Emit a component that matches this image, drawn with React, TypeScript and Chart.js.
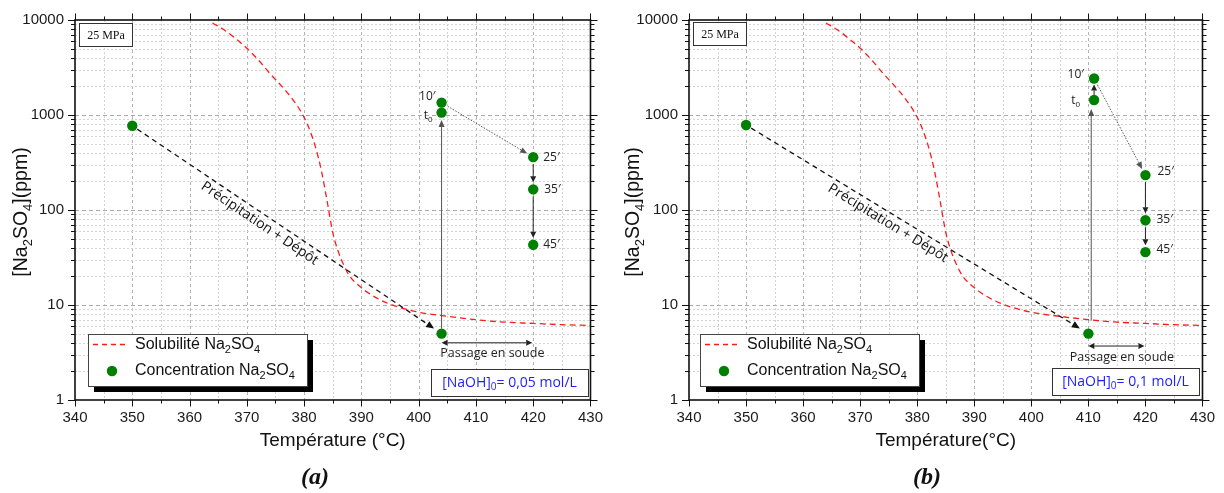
import React, { useEffect, useRef } from 'react';
import { Chart, registerables } from 'chart.js';

Chart.register(...registerables);

// ---------------- DATA ----------------
const xMin = 340;
const xMax = 430;
const xStep = 5;
const yMin = 1;
const yMax = 10000;
const yDecadeLabels = [1, 10, 100, 1000, 10000];

// Solubility curve of Na2SO4 at 25 MPa (red dashed)
const solubilityT = [364, 366, 368, 370, 372, 374, 376, 377, 378, 379, 380, 381, 382, 383, 384, 385, 386, 387, 388, 390, 392, 395, 400, 405, 410, 415, 420, 425, 430];
const solubilityC = [9300, 7900, 6400, 5050, 3800, 2750, 2040, 1740, 1460, 1200, 945, 690, 457, 263, 126, 58, 36, 25.7, 20, 15.2, 12.5, 10.2, 8.4, 7.6, 7.0, 6.6, 6.4, 6.2, 6.1];

// Panel (a): measured concentrations (order: initial, after deposit, t0, 10', 25', 35', 45')
const aConcT = [350, 404, 404, 404, 420, 420, 420];
const aConcC = [770, 5, 1060, 1350, 360, 165, 43];
// Panel (b)
const bConcT = [350, 410, 411, 411, 420, 420, 420];
const bConcC = [785, 5, 1440, 2420, 233, 78, 36];

const pointLabels = ['', '', 't0', '10′', '25′', '35′', '45′'];
const aNaOH = '0,05';
const bNaOH = '0,1';
const aSoudeC = 4;
const bSoudeC = 3.7;
const soudeEndT = 420;
const pressureLabel = '25 MPa';

// ---------------- STYLE ----------------
const SANS = '"Liberation Sans", Arial, sans-serif';
const CAL = '"Open Sans", "Noto Sans", sans-serif';
const SERIF = '"Liberation Serif", "Times New Roman", serif';
const GREEN = '#008000';
const RED = '#ff1a1a';

type Part = { t: string; sub?: boolean };

function drawRich(ctx: CanvasRenderingContext2D, parts: Part[], x: number, y: number, size: number, family: string, color: string, align: 'left' | 'center' | 'right') {
  const sub = Math.round(size * 0.68);
  let w = 0;
  const widths: number[] = [];
  for (const p of parts) {
    ctx.font = `${p.sub ? sub : size}px ${family}`;
    const m = ctx.measureText(p.t).width;
    widths.push(m);
    w += m;
  }
  let cx = align === 'left' ? x : align === 'center' ? x - w / 2 : x - w;
  ctx.fillStyle = color;
  ctx.textBaseline = 'middle';
  ctx.textAlign = 'left';
  parts.forEach((p, i) => {
    ctx.font = `${p.sub ? sub : size}px ${family}`;
    ctx.fillText(p.t, cx, p.sub ? y + size * 0.33 : y);
    cx += widths[i];
  });
}

function arrowHead(ctx: CanvasRenderingContext2D, x: number, y: number, ux: number, uy: number, len: number, hw: number) {
  ctx.beginPath();
  ctx.moveTo(x, y);
  ctx.lineTo(x - ux * len - uy * hw, y - uy * len + ux * hw);
  ctx.lineTo(x - ux * len + uy * hw, y - uy * len - ux * hw);
  ctx.closePath();
  ctx.fill();
}

function arrow(ctx: CanvasRenderingContext2D, x1: number, y1: number, x2: number, y2: number, off1: number, off2: number, opt: { color: string; width: number; dash: number[]; len: number; hw: number; both?: boolean }) {
  const dx = x2 - x1;
  const dy = y2 - y1;
  const d = Math.hypot(dx, dy);
  const ux = dx / d;
  const uy = dy / d;
  const sx = x1 + ux * off1;
  const sy = y1 + uy * off1;
  const ex = x2 - ux * off2;
  const ey = y2 - uy * off2;
  ctx.save();
  ctx.strokeStyle = opt.color;
  ctx.fillStyle = opt.color;
  ctx.lineWidth = opt.width;
  ctx.setLineDash(opt.dash);
  ctx.beginPath();
  const a = opt.both ? opt.len : 0;
  ctx.moveTo(sx + ux * a, sy + uy * a);
  ctx.lineTo(ex - ux * opt.len, ey - uy * opt.len);
  ctx.stroke();
  ctx.setLineDash([]);
  arrowHead(ctx, ex, ey, ux, uy, opt.len, opt.hw);
  if (opt.both) arrowHead(ctx, sx, sy, -ux, -uy, opt.len, opt.hw);
  ctx.restore();
}

interface PanelCfg {
  left: number;
  yAxisWidth: number;
  padRight: number;
  concT: number[];
  concC: number[];
  naoh: string;
  soudeC: number;
  xTitle: string;
  caption: string;
  naohBox: number[];
  mpaBox: number[];
  labelOffsets: number[][];
  vertMid: boolean;
  vertOff: number[];
  t0Arrow: boolean;
  precipOffset: number;
}

const panelA: PanelCfg = {
  left: 0,
  yAxisWidth: 75,
  padRight: 20,
  concT: aConcT,
  concC: aConcC,
  naoh: aNaOH,
  soudeC: aSoudeC,
  xTitle: 'Température (°C)',
  caption: '(a)',
  naohBox: [431, 369, 157, 27],
  mpaBox: [79, 23, 53, 23],
  labelOffsets: [[0, 0], [0, 0], [-9, 3], [-6, -6], [10, 0], [11, 0], [10, 0]],
  vertMid: false,
  vertOff: [5, 7.5],
  t0Arrow: false,
  precipOffset: 9,
};

const panelB: PanelCfg = {
  left: 612,
  yAxisWidth: 77,
  padRight: 16,
  concT: bConcT,
  concC: bConcC,
  naoh: bNaOH,
  soudeC: bSoudeC,
  xTitle: 'Température(°C)',
  caption: '(b)',
  naohBox: [440, 368, 147, 27],
  mpaBox: [81, 22, 53, 23],
  labelOffsets: [[0, 0], [0, 0], [-14, 1], [-10, -4], [12, -4], [11, -1], [11, -3]],
  vertMid: true,
  vertOff: [13, 9],
  t0Arrow: true,
  precipOffset: 10,
};

function makePlugin(cfg: PanelCfg) {
  return {
    id: 'annot',
    beforeDatasetsDraw(chart: any) {
      const ctx: CanvasRenderingContext2D = chart.ctx;
      const xs = chart.scales.x;
      const ys = chart.scales.y;
      const { left, right, top, bottom } = chart.chartArea;
      ctx.save();
      ctx.lineWidth = 1;
      // vertical grid
      for (let v = xMin + xStep; v < xMax; v += xStep) {
        const major = v % 10 === 0;
        const px = Math.round(xs.getPixelForValue(v)) + 0.5;
        ctx.strokeStyle = major ? '#b2b2b2' : '#d2d2d2';
        ctx.setLineDash(major ? [3, 3] : [2, 2]);
        ctx.beginPath();
        ctx.moveTo(px, top);
        ctx.lineTo(px, bottom);
        ctx.stroke();
      }
      // horizontal grid
      for (let d = 0; d < 4; d++) {
        for (let m = 1; m <= 9; m++) {
          const v = m * Math.pow(10, d);
          if (v <= yMin) continue;
          const major = m === 1;
          const py = Math.round(ys.getPixelForValue(v)) + 0.5;
          ctx.strokeStyle = major ? '#aaaaaa' : '#d4d4d4';
          ctx.setLineDash(major ? [4, 3] : [2, 2]);
          ctx.beginPath();
          ctx.moveTo(left, py);
          ctx.lineTo(right, py);
          ctx.stroke();
        }
      }
      ctx.restore();
    },
    afterDatasetsDraw(chart: any) {
      const ctx: CanvasRenderingContext2D = chart.ctx;
      const xs = chart.scales.x;
      const ys = chart.scales.y;
      const { left, right, top, bottom } = chart.chartArea;
      const px = (t: number) => xs.getPixelForValue(t);
      const py = (c: number) => ys.getPixelForValue(c);
      ctx.save();

      // frame + ticks
      ctx.strokeStyle = '#111';
      ctx.setLineDash([]);
      ctx.lineWidth = 1;
      for (let v = xMin; v <= xMax; v += xStep) {
        const len = v % 10 === 0 ? 6.5 : 3.5;
        const x = Math.round(px(v)) + 0.5;
        ctx.beginPath();
        ctx.moveTo(x, bottom);
        ctx.lineTo(x, bottom + len);
        ctx.moveTo(x, top);
        ctx.lineTo(x, top - len);
        ctx.stroke();
      }
      for (let d = 0; d <= 4; d++) {
        for (let m = 1; m <= 9; m++) {
          const v = m * Math.pow(10, d);
          if (v > yMax) continue;
          const len = m === 1 ? 7 : 4;
          const y = Math.round(py(v)) + 0.5;
          ctx.beginPath();
          ctx.moveTo(left, y);
          ctx.lineTo(left - len, y);
          ctx.moveTo(right, y);
          ctx.lineTo(right + len, y);
          ctx.stroke();
        }
      }
      ctx.lineWidth = 1.6;
      ctx.strokeRect(left, top, right - left, bottom - top);

      const T = cfg.concT;
      const C = cfg.concC;
      const P = T.map((t, i) => [px(t), py(C[i])]);

      // Precipitation arrow
      arrow(ctx, P[0][0], P[0][1], P[1][0], P[1][1], 6, cfg.precipOffset, { color: '#111', width: 1.3, dash: [5, 4], len: 8, hw: 3.5 });
      // Precipitation text
      {
        const dx = P[1][0] - P[0][0];
        const dy = P[1][1] - P[0][1];
        const ang = Math.atan2(dy, dx);
        const f = 0.43;
        const cx = P[0][0] + dx * f - Math.sin(ang) * 10;
        const cy = P[0][1] + dy * f + Math.cos(ang) * 10;
        ctx.save();
        ctx.translate(cx, cy);
        ctx.rotate(ang);
        ctx.fillStyle = '#111';
        ctx.font = `14px ${CAL}`;
        ctx.textAlign = 'center';
        ctx.textBaseline = 'middle';
        ctx.fillText('Précipitation + Dépôt', 0, 0);
        ctx.restore();
      }
      // vertical "rise" arrow to t0
      const vx = cfg.vertMid ? px((T[1] + T[2]) / 2) : P[1][0];
      arrow(ctx, vx, P[1][1], vx, P[2][1], cfg.vertOff[0], cfg.vertOff[1], { color: '#555', width: 1, dash: [], len: 7, hw: 3 });
      if (cfg.t0Arrow) {
        arrow(ctx, P[2][0], P[2][1], P[3][0], P[3][1], 5, 6, { color: '#222', width: 1, dash: [], len: 6, hw: 3 });
      }
      // dotted 10' -> 25'
      arrow(ctx, P[3][0], P[3][1], P[4][0], P[4][1], 7, 7, { color: '#555', width: 1, dash: [1.5, 1.5], len: 7, hw: 3 });
      // 25' -> 35' -> 45'
      arrow(ctx, P[4][0], P[4][1], P[5][0], P[5][1], 7, 7, { color: '#222', width: 1, dash: [], len: 6, hw: 3 });
      arrow(ctx, P[5][0], P[5][1], P[6][0], P[6][1], 7, 7, { color: '#222', width: 1, dash: [], len: 6, hw: 3 });
      // Passage en soude
      const sy = py(cfg.soudeC);
      const sx1 = px(T[1]);
      const sx2 = px(soudeEndT);
      arrow(ctx, sx1, sy, sx2, sy, 0, 1, { color: '#222', width: 1, dash: [], len: 6, hw: 3, both: true });
      ctx.fillStyle = '#222';
      ctx.font = `12.5px ${CAL}`;
      ctx.textAlign = 'center';
      ctx.textBaseline = 'middle';
      ctx.fillText('Passage en soude', (sx1 + sx2) / 2 + 5, sy + 11);

      // point labels
      pointLabels.forEach((lab, i) => {
        if (!lab) return;
        const [ox, oy] = cfg.labelOffsets[i];
        const align = ox < 0 ? 'right' : 'left';
        const parts: Part[] = lab === 't0' ? [{ t: 't' }, { t: '0', sub: true }] : [{ t: lab }];
        drawRich(ctx, parts, P[i][0] + ox, P[i][1] + oy, 12, CAL, '#222', align);
      });

      // 25 MPa box
      {
        const [bx, by, bw, bh] = cfg.mpaBox;
        ctx.fillStyle = '#fff';
        ctx.fillRect(bx, by, bw, bh);
        ctx.strokeStyle = '#333';
        ctx.lineWidth = 1;
        ctx.strokeRect(bx + 0.5, by + 0.5, bw, bh);
        ctx.fillStyle = '#111';
        ctx.font = `12px ${SERIF}`;
        ctx.textAlign = 'center';
        ctx.textBaseline = 'middle';
        ctx.fillText(pressureLabel, bx + bw / 2 + 0.5, by + bh / 2 + 1);
      }

      // NaOH box
      {
        const [bx, by, bw, bh] = cfg.naohBox;
        ctx.fillStyle = '#fff';
        ctx.fillRect(bx, by, bw, bh);
        ctx.strokeStyle = '#333';
        ctx.lineWidth = 1;
        ctx.strokeRect(bx + 0.5, by + 0.5, bw, bh);
        drawRich(ctx, [{ t: '[NaOH]' }, { t: '0', sub: true }, { t: `= ${cfg.naoh} mol/L` }], bx + bw / 2, by + bh / 2 + 0.5, 14, CAL, '#1c1cff', 'center');
      }

      // Legend
      {
        const lx = 88, ly = 334, lw = 219, lh = 52;
        ctx.fillStyle = '#000';
        ctx.fillRect(lx + 6, ly + 6, lw, lh);
        ctx.fillStyle = '#fff';
        ctx.fillRect(lx, ly, lw, lh);
        ctx.strokeStyle = '#444';
        ctx.lineWidth = 1;
        ctx.strokeRect(lx + 0.5, ly + 0.5, lw, lh);
        ctx.strokeStyle = RED;
        ctx.lineWidth = 1.3;
        ctx.setLineDash([5, 4]);
        ctx.beginPath();
        ctx.moveTo(lx + 5, ly + 10.5);
        ctx.lineTo(lx + 39, ly + 10.5);
        ctx.stroke();
        ctx.setLineDash([]);
        drawRich(ctx, [{ t: 'Solubilité Na' }, { t: '2', sub: true }, { t: 'SO' }, { t: '4', sub: true }], lx + 47, ly + 10.5, 16, SANS, '#111', 'left');
        ctx.fillStyle = GREEN;
        ctx.beginPath();
        ctx.arc(lx + 24, ly + 37, 5.2, 0, Math.PI * 2);
        ctx.fill();
        drawRich(ctx, [{ t: 'Concentration Na' }, { t: '2', sub: true }, { t: 'SO' }, { t: '4', sub: true }], lx + 47, ly + 37, 16, SANS, '#111', 'left');
      }

      // Axis titles
      ctx.fillStyle = '#111';
      ctx.font = `19px ${SANS}`;
      ctx.textAlign = 'center';
      ctx.textBaseline = 'middle';
      ctx.fillText(cfg.xTitle, (left + right) / 2, 441);
      ctx.save();
      ctx.translate(22, (top + bottom) / 2 + 2);
      ctx.rotate(-Math.PI / 2);
      drawRich(ctx, [{ t: '[Na' }, { t: '2', sub: true }, { t: 'SO' }, { t: '4', sub: true }, { t: '](ppm)' }], 0, 0, 19.5, SANS, '#111', 'center');
      ctx.restore();

      // Caption
      ctx.fillStyle = '#111';
      ctx.font = `bold italic 24px ${SERIF}`;
      ctx.textAlign = 'center';
      ctx.textBaseline = 'middle';
      ctx.fillText(cfg.caption, 315, 478);

      ctx.restore();
    },
  };
}

function Panel({ cfg }: { cfg: PanelCfg }) {
  const ref = useRef<HTMLCanvasElement>(null);
  useEffect(() => {
    const canvas = ref.current!;
    const chart = new Chart(canvas, {
      type: 'scatter',
      data: {
        datasets: [
          {
            label: 'Solubilité Na2SO4',
            data: solubilityT.map((t, i) => ({ x: t, y: solubilityC[i] })),
            showLine: true,
            borderColor: RED,
            borderWidth: 1.3,
            borderDash: [6, 4],
            pointRadius: 0,
            cubicInterpolationMode: 'monotone',
            fill: false,
            order: 2,
          } as any,
          {
            label: 'Concentration Na2SO4',
            data: cfg.concT.map((t, i) => ({ x: t, y: cfg.concC[i] })),
            showLine: false,
            pointRadius: 5.2,
            pointBackgroundColor: GREEN,
            pointBorderWidth: 0,
            pointBorderColor: GREEN,
            order: 1,
          } as any,
        ],
      },
      options: {
        animation: false,
        responsive: false,
        devicePixelRatio: 1,
        layout: { padding: { top: 18, right: cfg.padRight, left: 0, bottom: 0 } },
        plugins: { legend: { display: false }, tooltip: { enabled: false } },
        scales: {
          x: {
            type: 'linear',
            min: xMin,
            max: xMax,
            grid: { display: false, drawTicks: false },
            border: { display: false },
            ticks: {
              stepSize: xStep,
              autoSkip: false,
              maxRotation: 0,
              padding: 9,
              color: '#1a1a1a',
              font: { family: SANS, size: 15 },
              callback: (v: any) => (Number(v) % 10 === 0 ? String(v) : ''),
            },
            afterFit: (s: any) => {
              s.height = 93;
            },
          },
          y: {
            type: 'logarithmic',
            min: yMin,
            max: yMax,
            grid: { display: false, drawTicks: false },
            border: { display: false },
            ticks: {
              autoSkip: false,
              padding: 11,
              color: '#1a1a1a',
              font: { family: SANS, size: 15 },
              callback: (v: any) => {
                const n = Number(v);
                return yDecadeLabels.some((d) => Math.abs(d - n) < 1e-6) ? String(Math.round(n)) : '';
              },
            },
            afterFit: (s: any) => {
              s.width = cfg.yAxisWidth;
            },
          },
        },
      } as any,
      plugins: [makePlugin(cfg)],
    });
    return () => chart.destroy();
  }, [cfg]);
  return (
    <canvas
      ref={ref}
      width={612}
      height={493}
      style={{ position: 'absolute', left: cfg.left, top: 0, width: 612, height: 493 }}
    />
  );
}

export default function App() {
  return (
    <div style={{ position: 'absolute', left: 0, top: 0, width: 1224, height: 493, background: '#fff', overflow: 'hidden' }}>
      <Panel cfg={panelA} />
      <Panel cfg={panelB} />
    </div>
  );
}
